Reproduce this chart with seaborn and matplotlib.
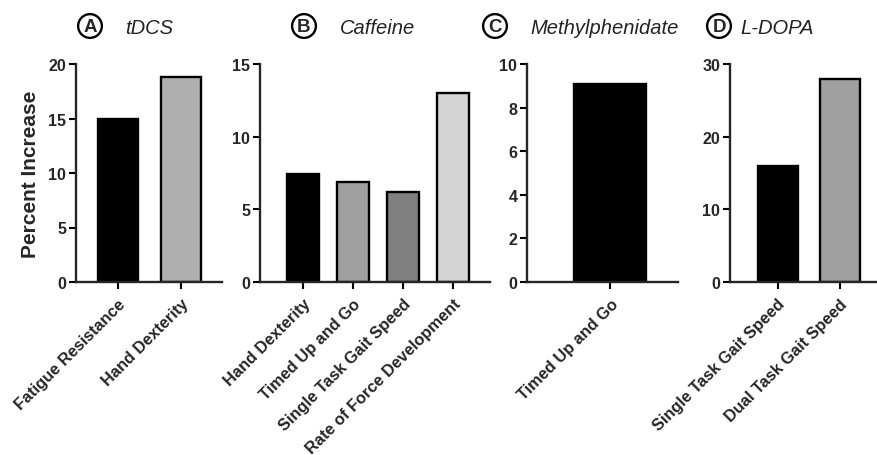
import matplotlib
matplotlib.use("Agg")
import matplotlib.pyplot as plt
import seaborn as sns
import pandas as pd

# data
tdcs_labels = ["Fatigue Resistance", "Hand Dexterity"]
tdcs_values = [15.0, 18.8]
caffeine_labels = ["Hand Dexterity", "Timed Up and Go", "Single Task Gait Speed",
                   "Rate of Force Development"]
caffeine_values = [7.4, 6.9, 6.2, 13.0]
mph_labels = ["Timed Up and Go"]
mph_values = [9.1]
ldopa_labels = ["Single Task Gait Speed", "Dual Task Gait Speed"]
ldopa_values = [16.0, 28.0]

sns.set_style("ticks")
plt.rcParams["font.family"] = ["Liberation Sans", "DejaVu Sans"]
plt.rcParams["axes.linewidth"] = 1.7

panels = [
    # letter, title, labels, values, colours, ylim, yticks, axes x-span, xlim
    ("A", "tDCS", tdcs_labels, tdcs_values, ["#000000", "#b0b0b0"],
     20, [0, 5, 10, 15, 20], [76, 222], (-0.67, 1.66)),
    ("B", "Caffeine", caffeine_labels, caffeine_values,
     ["#000000", "#a0a0a0", "#808080", "#d4d4d4"],
     15, [0, 5, 10, 15], [260, 490], (-0.86, 3.73)),
    ("C", "Methylphenidate", mph_labels, mph_values, ["#000000"],
     10, [0, 2, 4, 6, 8, 10], [527, 678], (-0.74, 0.60)),
    ("D", "L-DOPA", ldopa_labels, ldopa_values, ["#000000", "#a0a0a0"],
     30, [0, 10, 20, 30], [730, 880], (-0.76, 1.64)),
]
title_pos = {"A": (90, 125), "B": (304, 340), "C": (495, 530), "D": (719, 740)}

W, H = 877, 456
fig = plt.figure(figsize=(W / 100, H / 100), dpi=100)

for letter, name, labels, values, colors, ymax, yticks, (x0, x1), xlim in panels:
    ax = fig.add_axes([x0 / W, 1 - 283 / H, (x1 - x0) / W, (283 - 65) / H])
    df = pd.DataFrame({"measure": labels, "value": values})
    sns.barplot(data=df, x="measure", y="value", hue="measure", palette=colors,
                legend=False, width=0.64, edgecolor="black", linewidth=1.7,
                ax=ax)
    ax.set_xlim(*xlim)
    ax.set_ylim(0, ymax)
    ax.set_yticks(yticks)
    ax.set_xlabel("")
    ax.set_ylabel("")
    sns.despine(ax=ax)
    ax.spines["left"].set_bounds(0, ymax)
    ax.tick_params(axis="both", length=5, width=1.5, color="black")
    ax.tick_params(axis="y", labelsize=11.5, pad=2)
    ax.tick_params(axis="x", pad=5)
    for t in ax.get_yticklabels():
        t.set_fontweight("bold")
    ax.set_xticks(range(len(labels)))
    ax.set_xticklabels(labels, rotation=45, ha="right", rotation_mode="anchor",
                       fontsize=11.8, fontweight="bold")
    if letter == "A":
        ax.set_ylabel("Percent Increase", fontsize=15, fontweight="bold",
                      labelpad=6)

    cx, tx = title_pos[letter]
    fig.text(cx / W, 1 - 27 / H, letter, fontsize=13.5, fontweight="bold",
             ha="center", va="center",
             bbox=dict(boxstyle="circle,pad=0.18", fc="white", ec="black",
                       lw=1.7))
    fig.text(tx / W, 1 - 28 / H, name, fontsize=14.5, style="italic",
             ha="left", va="center", color="#222222")

fig.savefig("out.png", dpi=100)
